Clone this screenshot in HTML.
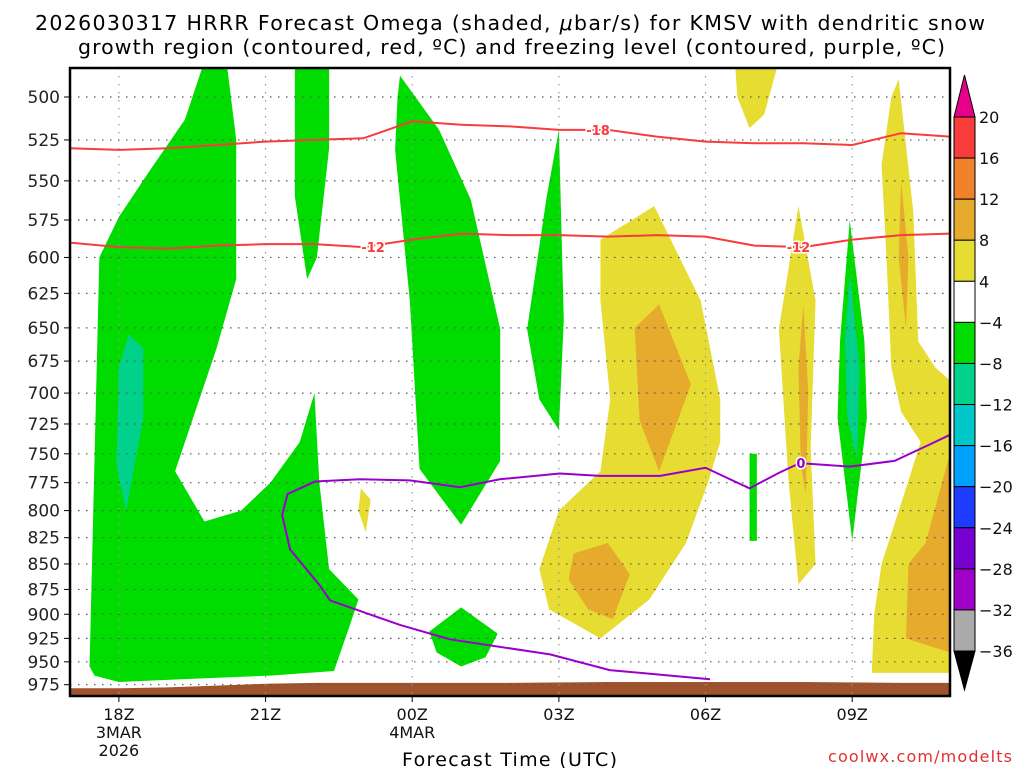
<!DOCTYPE html>
<html><head><meta charset="utf-8"><style>
html,body{margin:0;padding:0;background:#fff;}
svg{display:block;font-family:"DejaVu Sans","Liberation Sans",sans-serif;}
</style></head><body>
<svg id="chart" width="1024" height="768" viewBox="0 0 1024 768">
<text x="35" y="30" font-size="20.5" textLength="950" lengthAdjust="spacing">2026030317 HRRR Forecast Omega (shaded, <tspan font-style="italic">μ</tspan>bar/s) for KMSV with dendritic snow</text>
<text x="78" y="54" font-size="20.5" textLength="867" lengthAdjust="spacing">growth region (contoured, red, ºC) and freezing level (contoured, purple, ºC)</text>
<g id="plot"></g>
<text x="402" y="766" font-size="19" textLength="215" lengthAdjust="spacing">Forecast Time (UTC)</text>
<text x="828" y="762" font-size="16" textLength="184" lengthAdjust="spacing" fill="#e03030">coolwx.com/modelts</text>
</svg>
<script>
const hourTicks=[18,21,24,27,30,33];
const hourLabels=["18Z","21Z","00Z","03Z","06Z","09Z"];
const dateLabels={18:["3MAR","2026"],24:["4MAR"]};
const pressureTicks=[500,525,550,575,600,625,650,675,700,725,750,775,800,825,850,875,900,925,950,975];
const cbLevels=[20,16,12,8,4,-4,-8,-12,-16,-20,-24,-28,-32,-36];
const cbColors=["#f83c3c","#f0822d","#e6aa2d","#e6dc32","#ffffff","#00dc00","#00d28c","#00c8c8","#00a0ff","#1e3cff","#7800d2","#a000c8","#aaaaaa"];
// shaded regions: [hour, hPa] vertex lists
const greenRegions=[
 [[17.4,955],[17.6,600],[18.0,573],[18.6,545],[19.35,513],[19.75,480],[20.2,480],[20.4,525],[20.4,615],[20.0,665],[19.15,765],[19.75,810],[20.5,800],[21.1,775],[21.7,740],[22.0,700],[22.1,775],[22.3,855],[22.9,885],[22.7,915],[22.4,960],[21.1,965],[19.7,968],[18.0,972],[17.5,965]],
 [[21.6,480],[22.3,480],[22.3,530],[22.05,600],[21.85,615],[21.6,560]],
 [[23.75,488],[24.55,519],[25.2,562],[25.8,651],[25.8,756],[25.0,813],[24.15,763],[23.95,630],[23.65,531],[23.7,500]],
 [[24.35,918],[25.0,893],[25.75,920],[25.5,945],[25.0,955],[24.5,940]],
 [[26.6,705],[26.35,651],[26.75,560],[27.0,519],[27.1,644],[27.0,730]],
 [[32.95,575],[33.25,660],[33.3,720],[33.0,828],[32.7,720],[32.75,660]],
 [[30.9,750],[31.05,750],[31.05,828],[30.9,828]]
];
const tealRegions=[
 [[18.2,655],[18.5,665],[18.5,720],[18.15,800],[17.95,760],[18.0,680]],
 [[32.95,611],[33.15,680],[33.1,755],[32.9,720],[32.85,660]]
];
const yellowRegions=[
 [[30.6,480],[31.5,480],[31.2,510],[30.9,518],[30.65,500]],
 [[27.85,588],[28.95,566],[29.9,630],[30.3,705],[30.3,740],[30.05,775],[29.6,830],[28.85,885],[27.85,925],[26.8,895],[26.6,855],[27.0,800],[27.85,765],[28.05,705],[27.85,630]],
 [[22.95,780],[23.15,790],[23.05,820],[22.9,800]],
 [[31.9,566],[32.25,630],[32.15,745],[32.25,850],[31.9,870],[31.7,775],[31.5,651]],
 [[33.95,490],[34.25,570],[34.35,660],[34.7,680],[35,690],[35,962],[33.4,962],[33.45,900],[33.6,850],[34.1,780],[34.4,740],[34.0,715],[33.8,680],[33.7,600],[33.6,540],[33.8,500]]
];
const orangeRegions=[
 [[29.05,633],[29.7,693],[29.05,765],[28.65,722],[28.55,650]],
 [[27.3,840],[28.0,830],[28.45,860],[28.1,905],[27.6,895],[27.2,865]],
 [[32.0,633],[32.1,700],[32.05,785],[31.95,760],[31.9,680]],
 [[34.0,550],[34.15,600],[34.1,650],[33.95,600]],
 [[34.5,830],[35,750],[35,940],[34.1,925],[34.15,850]]
];
const redHours=[17,18,19,20,21,22,23,24,25,26,27,28,29,30,31,32,33,34,35];
const redM18=[530,531,530,528,526,525,524,514,516,517,519,519,523,526,527,527,528,521,523];
const redM12=[590,593,594,592,591,591,593,588,584,585,585,586,585,586,592,593,588,585,584];
const frzHours=[30.09,28.04,26.82,24.77,23.75,22.32,22.11,21.5,21.34,21.45,22.01,22.93,23.95,24.98,25.79,27.02,27.84,29.07,30.0,30.5,30.9,31.52,31.93,32.95,33.87,34.59,35];
const frzP=[969,959,942,926,911,886,871,836,804,785,774,772,773,779,772,767,769,769,762,772,780,766,758,761,756,742,734];
const groundHours=[17,18,19,20,21,22,24,26,28,30,32,34,35];
const groundP=[979,979,978,976,974,973,973,973,972,972,972,973,973];

const X0=70,X1=950,Y0=68,Y1=696;
const xs=h=>X0+(h-17)*(X1-X0)/18;
const ys=p=>97+880*Math.log(p/500);
const NS="http://www.w3.org/2000/svg";
const plot=document.getElementById('plot');
function mk(tag,attrs,parent){const e=document.createElementNS(NS,tag);for(const k in attrs)e.setAttribute(k,attrs[k]);(parent||plot).appendChild(e);return e;}
const cp=mk('clipPath',{id:'clip'});mk('rect',{x:X0,y:Y0,width:X1-X0,height:Y1-Y0},cp);
const g=mk('g',{'clip-path':'url(#clip)'});
function poly(pts,fill,name){const e=mk('polygon',{points:pts.map(v=>xs(v[0])+','+ys(v[1])).join(' '),fill:fill},g);

}
greenRegions.forEach(r=>poly(r,'#00dc00','omega-region-green'));
tealRegions.forEach(r=>poly(r,'#00d28c','omega-region-teal'));
yellowRegions.forEach(r=>poly(r,'#e6dc32','omega-region-yellow'));
orangeRegions.forEach(r=>poly(r,'#e6aa2d','omega-region-orange'));
{const pts=groundHours.map((h,i)=>xs(h)+','+ys(groundP[i]));pts.push(xs(35)+','+(Y1+5));pts.push(xs(17)+','+(Y1+5));
const e=mk('polygon',{points:pts.join(' '),fill:'#a0522d'},g);

}
pressureTicks.forEach(p=>{const e=mk('line',{x1:X0,x2:X1,y1:ys(p),y2:ys(p),stroke:'#555','stroke-width':1.2,'stroke-dasharray':'1.5,6.5'},g);

});
hourTicks.forEach(h=>{const e=mk('line',{x1:xs(h),x2:xs(h),y1:Y0,y2:Y1,stroke:'#999','stroke-width':1.2,'stroke-dasharray':'1.5,6.5'},g);

});
function line(hs,ps,color,name){const e=mk('polyline',{points:hs.map((h,i)=>xs(h)+','+ys(ps[i])).join(' '),fill:'none',stroke:color,'stroke-width':2},g);

}
line(redHours,redM18,'#f83c3c','contour-minus18');
line(redHours,redM12,'#f83c3c','contour-minus12');
line(frzHours,frzP,'#9900cc','freezing-level-contour');
function clabel(h,p,t,color,name){
const e=mk('text',{x:xs(h),y:ys(p)+5,'font-size':13,'font-weight':'bold','text-anchor':'middle',fill:color,stroke:'#fff','stroke-width':3,'paint-order':'stroke'},g);e.textContent=t;

}
clabel(27.8,519,'-18','#f83c3c','contour-label-minus18');
clabel(23.2,593,'-12','#f83c3c','contour-label-minus12');
clabel(31.9,593,'-12','#f83c3c','contour-label-minus12');
clabel(31.95,758,'0','#9900cc','contour-label-zero');
{const e=mk('rect',{x:X0,y:Y0,width:X1-X0,height:Y1-Y0,fill:'none',stroke:'#000','stroke-width':2.5});

}
pressureTicks.forEach(p=>{mk('line',{x1:X0-6,x2:X0,y1:ys(p),y2:ys(p),stroke:'#000'});
const t=mk('text',{x:X0-10,y:ys(p)+6,'font-size':17,'text-anchor':'end',fill:'#222'});t.textContent=p;

});
hourTicks.forEach((h,i)=>{mk('line',{x1:xs(h),x2:xs(h),y1:Y1,y2:Y1+6,stroke:'#000'});
const t=mk('text',{x:xs(h),y:Y1+24,'font-size':16,'text-anchor':'middle',fill:'#111'});t.textContent=hourLabels[i];


(dateLabels[h]||[]).forEach((d,j)=>{const u=mk('text',{x:xs(h),y:Y1+42+j*18,'font-size':16,'text-anchor':'middle',fill:'#111'});u.textContent=d;

});});
const CBX=954,CBW=21,CBT=117,CBB=651;const step=(CBB-CBT)/(cbLevels.length-1);
{const e=mk('polygon',{points:`${CBX},${CBT} ${CBX+CBW},${CBT} ${CBX+CBW/2},75`,fill:'#e6008c',stroke:'#000'});

}
{const e=mk('polygon',{points:`${CBX},${CBB} ${CBX+CBW},${CBB} ${CBX+CBW/2},690`,fill:'#000',stroke:'#000'});

}
cbColors.forEach((c,i)=>{const e=mk('rect',{x:CBX,y:CBT+i*step,width:CBW,height:step,fill:c,stroke:'#000'});

});
cbLevels.forEach((v,i)=>{const t=mk('text',{x:979,y:CBT+i*step+6,'font-size':16,fill:'#111'});t.textContent=v<0?'−'+(-v):String(v);

});
</script>
</body></html>
